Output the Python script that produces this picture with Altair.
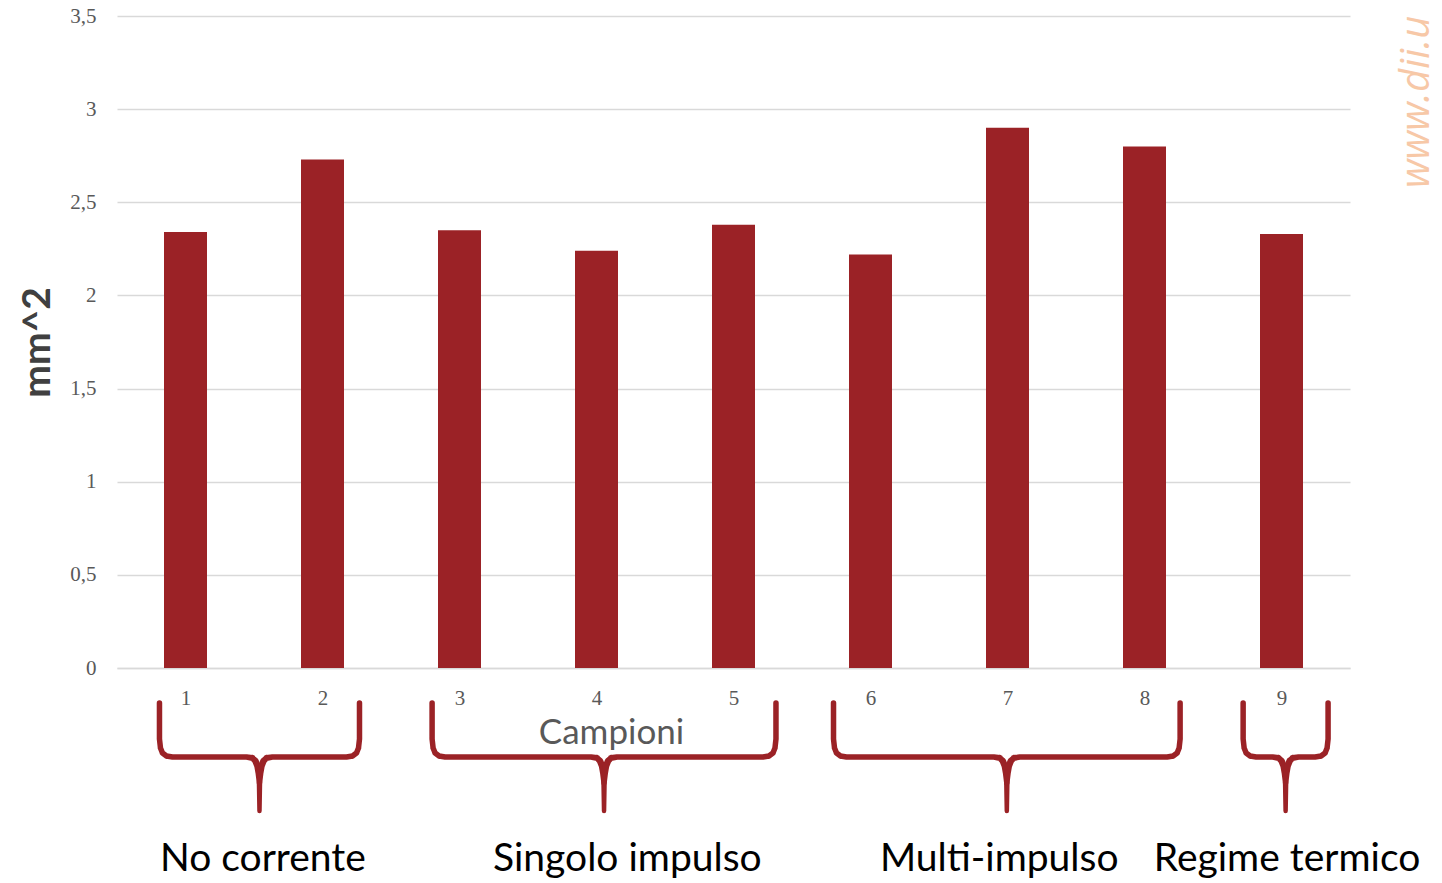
import altair as alt
import pandas as pd

# Sample areas (mm^2) for the nine specimens
campioni = [1, 2, 3, 4, 5, 6, 7, 8, 9]
area_mm2 = [2.34, 2.73, 2.35, 2.24, 2.38, 2.22, 2.90, 2.80, 2.33]

# Test-condition groups: brace span (in category units) and label position
gruppi = ["No corrente", "Singolo impulso", "Multi-impulso", "Regime termico"]
brace_left = [0.81, 2.80, 5.73, 8.72]
brace_right = [2.27, 5.31, 8.26, 9.34]
label_x = [1.565, 4.225, 6.94, 9.04]

y_ticks = [0, 0.5, 1, 1.5, 2, 2.5, 3, 3.5]

BAR = "#9b2226"
GRID = "#d9d9d9"
W, H = 1233, 652
PX = W / 9.0  # pixels per category unit

bars_df = pd.DataFrame({"campione": campioni, "area": area_mm2})

# Curly-brace outline: (dx from the end in px, dy from the top in px, stroke width)
end_curve = [(0, 0, 5.5), (0, 36, 5.5), (1, 45, 5.5), (3, 50, 5.5), (7, 53, 5.5), (13, 54, 5.5)]
mid_curve = [(13, 54, 5.5), (7, 55, 6), (4, 58, 6.5), (2, 63, 6.5), (1, 70, 6), (0, 80, 5.5)]

rows = []
for g, L, R in zip(gruppi, brace_left, brace_right):
    C = (L + R) / 2
    order = 0
    for dx, dy, s in end_curve:
        rows.append(dict(g=g, half="L", o=order, x=L + dx / PX, t=dy, s=s)); order += 1
    for dx, dy, s in mid_curve:
        rows.append(dict(g=g, half="L", o=order, x=C - dx / PX, t=dy, s=s)); order += 1
    rows.append(dict(g=g, half="L", o=order, x=C, t=108, s=4.5))
    order = 0
    for dx, dy, s in end_curve:
        rows.append(dict(g=g, half="R", o=order, x=R - dx / PX, t=dy, s=s)); order += 1
    for dx, dy, s in mid_curve:
        rows.append(dict(g=g, half="R", o=order, x=C + dx / PX, t=dy, s=s)); order += 1
brace_df = pd.DataFrame(rows)
brace_df["key"] = brace_df["g"] + brace_df["half"]

labels_df = pd.DataFrame({"g": gruppi, "x": label_x, "t": [156] * 4})

xscale = alt.Scale(domain=[0.5, 9.5], nice=False, zero=False, padding=0)
# Brace layer lives below the plot: 0 -> just under the tick labels
brace_y = alt.Scale(domain=[0, 109], range=[687, 796], nice=False, zero=False)

bars = alt.Chart(bars_df).mark_bar(color=BAR, size=43).encode(
    x=alt.X("campione:Q", scale=xscale,
            axis=alt.Axis(values=campioni, grid=False, ticks=False, format="d",
                          domainColor=GRID, domainWidth=1.5,
                          labelFont="Liberation Serif", labelFontSize=21, labelColor="#595959",
                          labelPadding=19,
                          title="Campioni", titleFont="Lato", titleFontSize=35,
                          titleFontWeight="normal", titleColor="#595959",
                          titleX=494, titleY=64, titleBaseline="middle", titleAnchor="start",
                          titleAlign="center")),
    y=alt.Y("area:Q", scale=alt.Scale(domain=[0, 3.5], nice=False, padding=0),
            axis=alt.Axis(values=y_ticks,
                          labelExpr="replace(format(datum.value, '~g'), '.', ',')",
                          grid=True, gridColor=GRID, gridWidth=1.5, domain=False, ticks=False,
                          labelFont="Liberation Serif", labelFontSize=21, labelColor="#595959",
                          labelPadding=21,
                          title="mm^2", titleFont="Lato", titleFontSize=39,
                          titleFontWeight="bold", titleColor="#404040",
                          titleAngle=-90, titleX=-80, titleY=326,
                          titleBaseline="middle", titleAlign="center")),
)

braces = alt.Chart(brace_df).mark_trail(color=BAR).encode(
    x=alt.X("x:Q", scale=xscale),
    y=alt.Y("t:Q", scale=brace_y, axis=None),
    size=alt.Size("s:Q", scale=None, legend=None),
    detail="key:N",
    order="o:Q",
)

group_text = alt.Chart(labels_df).mark_text(
    font="Lato", fontSize=39, color="#000000", align="center", baseline="middle"
).encode(
    x=alt.X("x:Q", scale=xscale),
    y=alt.Y("t:Q", scale=brace_y, axis=None),
    text="g:N",
)

watermark = alt.Chart(pd.DataFrame({"w": ["www.dii.u"]})).mark_text(
    font="Open Sans", fontStyle="italic", fontSize=40, color="#f4b183", opacity=0.7,
    angle=270, align="left", baseline="middle"
).encode(x=alt.value(1300), y=alt.value(172), text="w:N")

chart = alt.layer(bars, braces, group_text, watermark).resolve_scale(
    y="independent"
).properties(
    width=W, height=H,
    autosize=alt.AutoSizeParams(type="none"),
    padding={"left": 117, "top": 16, "right": 92, "bottom": 215},
).configure_view(stroke=None)

chart.save("out.html", embed_options={"renderer": "svg", "actions": False})
